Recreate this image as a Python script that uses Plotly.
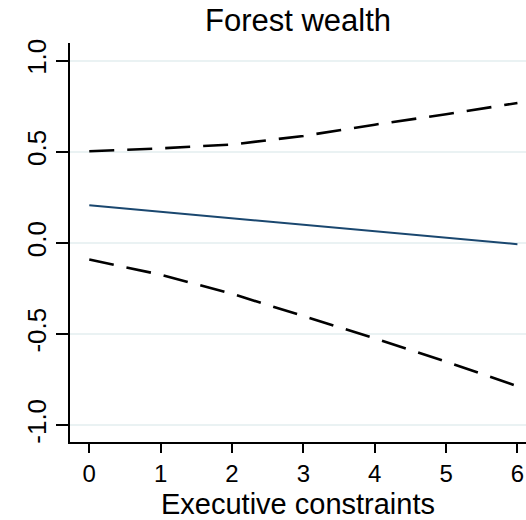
import plotly.graph_objects as go

# Marginal effect of forest wealth across executive constraints
exec_constraints = [0, 1, 2, 3, 4, 5, 6]
effect = [0.207, 0.171, 0.136, 0.100, 0.064, 0.029, -0.007]
ci_upper = [0.503, 0.519, 0.540, 0.587, 0.649, 0.706, 0.768]
ci_lower = [-0.091, -0.174, -0.279, -0.399, -0.523, -0.651, -0.786]

y_tickvals = [1.0, 0.5, 0.0, -0.5, -1.0]
y_ticktext = ["1.0", "0.5", "0.0", "-0.5", "-1.0"]

FONT = "Liberation Sans, Arial, Helvetica, sans-serif"
NAVY = "#1a476f"
GRID = "#eaf2f3"

fig = go.Figure()

for ci in (ci_upper, ci_lower):
    fig.add_trace(go.Scatter(
        x=exec_constraints, y=ci, mode="lines",
        line=dict(color="black", width=2.6, dash="25px,13px"),
        showlegend=False, hoverinfo="skip",
    ))

fig.add_trace(go.Scatter(
    x=exec_constraints, y=effect, mode="lines",
    line=dict(color=NAVY, width=2),
    showlegend=False,
))

fig.update_layout(
    width=526, height=520,
    margin=dict(l=70, r=0, t=43, b=78),
    paper_bgcolor="white", plot_bgcolor="white",
    font=dict(family=FONT, color="black"),
    title=dict(text="Forest wealth", x=0.5, xref="paper", xanchor="center",
               y=0.962, yref="container", yanchor="middle",
               font=dict(size=31, family=FONT, color="black")),
)

fig.update_xaxes(
    range=[-0.27, 6.12], tickvals=exec_constraints,
    ticks="outside", ticklen=9, tickwidth=1.5, tickcolor="black",
    tickfont=dict(size=24),
    showline=True, linecolor="black", linewidth=2,
    showgrid=False, zeroline=False,
    title=dict(text="Executive constraints", font=dict(size=29), standoff=8),
)

fig.update_yaxes(
    range=[-1.092, 1.097], tickvals=y_tickvals, ticktext=y_ticktext,
    tickangle=-90,
    ticks="outside", ticklen=12, tickwidth=1.5, tickcolor="black",
    tickfont=dict(size=26),
    showline=True, linecolor="black", linewidth=2,
    showgrid=True, gridcolor=GRID, gridwidth=1.5, zeroline=False,
)

fig.write_html("out.html")
